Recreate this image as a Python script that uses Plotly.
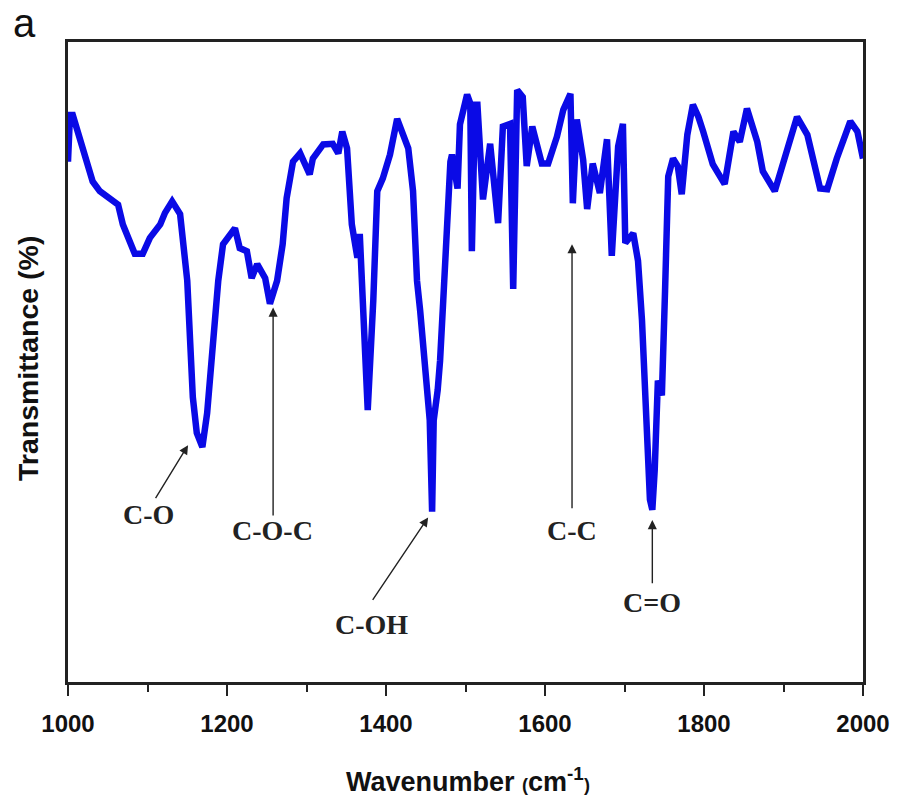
import plotly.graph_objects as go

# FTIR spectrum: wavenumber (cm^-1) vs transmittance (relative %)
wavenumber = [
    1000, 1002.5, 1006, 1015, 1024, 1031, 1040, 1053, 1063, 1069, 1078, 1084, 1094,
    1103, 1116, 1122, 1131, 1141, 1150, 1157, 1162, 1169, 1175, 1181, 1189, 1195,
    1210, 1216, 1225, 1231, 1238, 1248, 1254, 1263, 1270, 1275, 1283, 1292, 1304,
    1308, 1321, 1333, 1340, 1345, 1351, 1357, 1364, 1367, 1371, 1377, 1384, 1389,
    1396, 1405, 1414, 1421, 1428, 1434, 1439, 1443, 1453, 1455, 1458, 1460, 1465,
    1468, 1472, 1477, 1481, 1483, 1490, 1493, 1502, 1506, 1508, 1512, 1515, 1522,
    1531, 1541, 1547, 1556, 1560, 1565, 1572, 1577, 1584, 1596, 1604, 1615, 1623,
    1632, 1635, 1640, 1648, 1653, 1660, 1669, 1678, 1684, 1692, 1698, 1701, 1711,
    1717, 1722, 1727, 1732, 1735, 1738, 1742, 1747, 1751, 1755, 1761, 1767, 1772,
    1779, 1786, 1793, 1799, 1811, 1826, 1837, 1845, 1854, 1867, 1874, 1889, 1905,
    1917, 1930, 1946, 1955, 1967, 1984, 1993, 2000,
]
transmittance = [
    81.3, 88.6, 88.6, 84.9, 81.6, 78.2, 76.7, 75.6, 74.6, 71.5, 68.4, 66.9, 66.9,
    69.4, 71.5, 73.3, 75.1, 73.1, 62.7, 44.5, 38.9, 36.7, 42.0, 51.3, 62.7, 68.4,
    70.9, 67.8, 67.3, 63.1, 65.3, 63.1, 59.1, 62.7, 68.4, 75.6, 81.3, 82.6, 79.3,
    81.8, 84.0, 84.1, 82.6, 86.0, 83.4, 71.5, 66.3, 70.0, 59.6, 42.5, 59.6, 76.7,
    78.7, 82.4, 88.0, 86.0, 83.4, 76.7, 62.7, 58.0, 43.5, 40.9, 26.6, 40.9, 45.6,
    50.2, 59.6, 75.1, 81.3, 82.4, 77.1, 87.1, 91.8, 90.4, 67.3, 90.2, 90.2, 75.4,
    84.1, 71.7, 86.8, 87.2, 61.4, 92.5, 91.4, 80.6, 86.8, 81.0, 81.0, 85.2, 89.4,
    91.9, 74.8, 87.9, 81.6, 73.9, 81.0, 76.4, 84.8, 66.6, 83.7, 87.2, 68.6, 70.1,
    65.8, 56.5, 40.9, 28.5, 26.9, 33.1, 47.1, 44.8, 61.1, 79.0, 81.8, 80.6, 76.2,
    85.5, 90.2, 88.3, 86.0, 80.9, 77.8, 86.0, 84.4, 89.6, 84.4, 79.8, 76.7, 82.9,
    88.3, 85.5, 77.1, 77.0, 81.8, 87.6, 86.0, 81.8,
]

# Band assignments: label, arrow tip (x, y), arrow tail (x, y), label position (x, y)
band_labels = ["C-O", "C-O-C", "C-OH", "C-C", "C=O"]
tip_x = [1151, 1258, 1453, 1634, 1735]
tip_y = [37.0, 58.5, 25.7, 68.4, 25.3]
tail_x = [1109, 1258, 1382, 1634, 1735]
tail_y = [28.5, 25.8, 12.6, 26.9, 15.2]
label_x = [1101, 1257, 1382, 1634, 1735]
label_y = [26.1, 23.6, 9.0, 23.6, 12.4]

tick_vals = [1000, 1200, 1400, 1600, 1800, 2000]

fig = go.Figure()
fig.add_trace(go.Scatter(
    x=wavenumber, y=transmittance, mode="lines",
    line=dict(color="#0a0ae6", width=6.5), showlegend=False,
))

annotations = []
for lab, tx, ty, ax, ay, lx, ly in zip(band_labels, tip_x, tip_y, tail_x, tail_y, label_x, label_y):
    annotations.append(dict(
        x=tx, y=ty, ax=ax, ay=ay, xref="x", yref="y", axref="x", ayref="y",
        text="", showarrow=True, arrowhead=2, arrowsize=1.3, arrowwidth=1.4,
        arrowcolor="#222222", standoff=0, startstandoff=0,
    ))
    annotations.append(dict(
        x=lx, y=ly, xref="x", yref="y", text=f"<b>{lab}</b>", showarrow=False,
        font=dict(family="Liberation Serif", size=28, color="#222222"),
        xanchor="center", yanchor="middle",
    ))

# axis titles and panel letter
annotations.append(dict(
    x=-0.05, y=0.505, xref="paper", yref="paper", textangle=-90,
    text="<b>Transmittance (%)</b>", showarrow=False,
    font=dict(family="Liberation Sans", size=28.5, color="#111111"),
    xanchor="center", yanchor="middle",
))
annotations.append(dict(
    x=0.5035, y=-0.153, xref="paper", yref="paper",
    text="<b>Wavenumber <span style='font-size:18px'>(</span>cm<sup>-1</sup><span style='font-size:18px'>)</span></b>",
    showarrow=False, font=dict(family="Liberation Sans", size=27, color="#111111"),
    xanchor="center", yanchor="middle",
))
annotations.append(dict(
    x=-0.055, y=1.03, xref="paper", yref="paper", text="a", showarrow=False,
    font=dict(family="Liberation Sans", size=40, color="#111111"),
    xanchor="center", yanchor="middle",
))

fig.update_layout(
    width=901, height=805,
    margin=dict(l=68, r=38, t=42, b=123),
    paper_bgcolor="white", plot_bgcolor="white",
    annotations=annotations,
    xaxis=dict(
        range=[1000, 2000], tickvals=tick_vals,
        ticktext=[f"<b>{v}</b>" for v in tick_vals],
        ticks="outside", ticklen=11, tickwidth=2, tickcolor="#222222",
        minor=dict(dtick=100, tick0=1000, ticks="outside", ticklen=7, tickwidth=2, tickcolor="#222222"),
        showline=True, linewidth=2.5, linecolor="#222222", mirror=True,
        showgrid=False, zeroline=False,
        tickfont=dict(family="Liberation Sans", size=24, color="#111111"),
        ticklabelstandoff=7,
    ),
    yaxis=dict(
        range=[0, 100], showticklabels=False, ticks="",
        showline=True, linewidth=2.5, linecolor="#222222", mirror=True,
        showgrid=False, zeroline=False,
    ),
)

fig.write_html("out.html")
